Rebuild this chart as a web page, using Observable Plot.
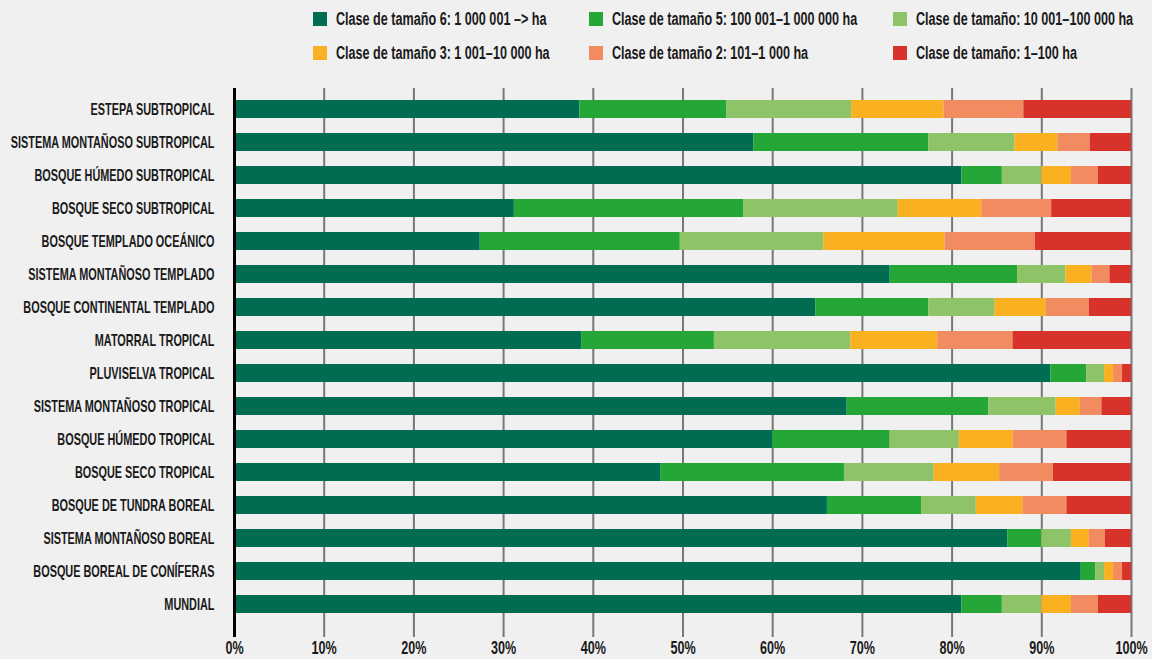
<!DOCTYPE html>
<html>
<head>
<meta charset="utf-8">
<script src="https://cdn.jsdelivr.net/npm/d3@7"></script>
<script src="https://cdn.jsdelivr.net/npm/@observablehq/plot@0.6"></script>
<style>
  html, body { margin: 0; padding: 0; background: #f0f0f0; }
  body { width: 1152px; height: 659px; overflow: hidden;
         font-family: "Liberation Sans", Arial, sans-serif; }
  #legend { position: relative; height: 75px; width: 1152px; }
  .sw { position: absolute; width: 14px; height: 14px; }
  .lt { position: absolute; font-size: 18px; font-weight: bold; color: #1a1a1a; white-space: nowrap;
        transform: scaleX(0.70); transform-origin: 0 50%; line-height: 20px; }
  #chart svg { display: block; }
</style>
</head>
<body>
<div id="legend"></div>
<div id="chart"></div>
<script>
const categories = [
  "ESTEPA SUBTROPICAL",
  "SISTEMA MONTAÑOSO SUBTROPICAL",
  "BOSQUE HÚMEDO SUBTROPICAL",
  "BOSQUE SECO SUBTROPICAL",
  "BOSQUE TEMPLADO OCEÁNICO",
  "SISTEMA MONTAÑOSO TEMPLADO",
  "BOSQUE CONTINENTAL TEMPLADO",
  "MATORRAL TROPICAL",
  "PLUVISELVA TROPICAL",
  "SISTEMA MONTAÑOSO TROPICAL",
  "BOSQUE HÚMEDO TROPICAL",
  "BOSQUE SECO TROPICAL",
  "BOSQUE DE TUNDRA BOREAL",
  "SISTEMA MONTAÑOSO BOREAL",
  "BOSQUE BOREAL DE CONÍFERAS",
  "MUNDIAL"
];
const seriesNames = [
  "Clase de tamaño 6: 1 000 001 –> ha",
  "Clase de tamaño 5: 100 001–1 000 000 ha",
  "Clase de tamaño: 10 001–100 000 ha",
  "Clase de tamaño 3: 1 001–10 000 ha",
  "Clase de tamaño 2: 101–1 000 ha",
  "Clase de tamaño: 1–100 ha"
];
const colors = ["#006c51", "#25a737", "#8fc367", "#f9b122", "#f28b5f", "#d8332a"];
const class6 = [38.5, 57.9, 81.1, 31.2, 27.4, 73.1, 64.8, 38.7, 91.0, 68.3, 60.0, 47.5, 66.1, 86.2, 94.4, 81.1];
const class5 = [16.4, 19.5, 4.5, 25.6, 22.3, 14.2, 12.6, 14.8, 4.0, 15.8, 13.1, 20.5, 10.5, 3.8, 1.6, 4.5];
const class4 = [13.9, 9.6, 4.4, 17.2, 16.0, 5.4, 7.4, 15.2, 2.0, 7.5, 7.7, 10.0, 6.1, 3.3, 1.0, 4.4];
const class3 = [10.3, 4.8, 3.3, 9.3, 13.5, 2.9, 5.7, 9.7, 1.0, 2.7, 6.0, 7.3, 5.2, 2.0, 1.0, 3.3];
const class2 = [8.9, 3.6, 3.0, 7.8, 10.1, 2.0, 4.8, 8.4, 1.0, 2.4, 6.0, 6.0, 4.9, 1.8, 1.0, 3.0];
const class1 = [12.0, 4.6, 3.7, 8.9, 10.7, 2.4, 4.7, 13.2, 1.0, 3.3, 7.2, 8.7, 7.2, 2.9, 1.0, 3.7];
const xTicks = [0, 10, 20, 30, 40, 50, 60, 70, 80, 90, 100];

const seriesValues = [class6, class5, class4, class3, class2, class1];
const table = [];
categories.forEach((c, i) => {
  seriesValues.forEach((arr, k) => {
    table.push({category: c, cls: seriesNames[k], value: arr[i]});
  });
});

// Legend
const legendPos = [[313, 19], [589, 19], [893, 19], [313, 53], [589, 53], [893, 53]];
const legend = document.getElementById("legend");
seriesNames.forEach((n, k) => {
  const sw = document.createElement("div");
  sw.className = "sw";
  sw.style.left = legendPos[k][0] + "px";
  sw.style.top = (legendPos[k][1] - 7) + "px";
  sw.style.background = colors[k];
  legend.appendChild(sw);
  const t = document.createElement("div");
  t.className = "lt";
  t.style.left = (legendPos[k][0] + 23) + "px";
  t.style.top = (legendPos[k][1] - 10) + "px";
  t.textContent = n;
  legend.appendChild(t);
});

const chart = Plot.plot({
  width: 1152,
  height: 584,
  marginLeft: 234,
  marginRight: 21,
  marginTop: 6,
  marginBottom: 27,
  style: {background: "#f0f0f0", fontFamily: "'Liberation Sans', Arial, sans-serif", fontWeight: "bold", color: "#1a1a1a"},
  x: {domain: [0, 100], ticks: xTicks, tickFormat: d => d + "%", label: null},
  y: {domain: categories, padding: 0.45, label: null},
  color: {domain: seriesNames, range: colors},
  marks: [
    Plot.ruleX(xTicks.filter(d => d > 0), {stroke: "#777", strokeWidth: 2, insetTop: 7, insetBottom: -5}),
    Plot.barX(table, Plot.stackX({x: "value", y: "category", fill: "cls", order: seriesNames})),
    Plot.ruleX([0], {stroke: "#000", strokeWidth: 3, insetTop: 7, insetBottom: -5}),
    Plot.axisX({ticks: xTicks, tickFormat: d => d + "%", tickSize: 0, tickPadding: 9, fontSize: 18, label: null}),
    Plot.axisY({tickSize: 0, tickPadding: 20, fontSize: 17, label: null})
  ]
});
document.getElementById("chart").appendChild(chart);

// condense axis tick label glyphs horizontally (reference uses a condensed face)
function condense(sel, s) {
  chart.querySelectorAll(sel).forEach(el => {
    const len = el.getComputedTextLength();
    el.setAttribute("textLength", (len * s).toFixed(1));
    el.setAttribute("lengthAdjust", "spacingAndGlyphs");
  });
}
condense('g[aria-label="y-axis tick label"] text', 0.64);
condense('g[aria-label="x-axis tick label"] text', 0.70);
</script>
</body>
</html>
